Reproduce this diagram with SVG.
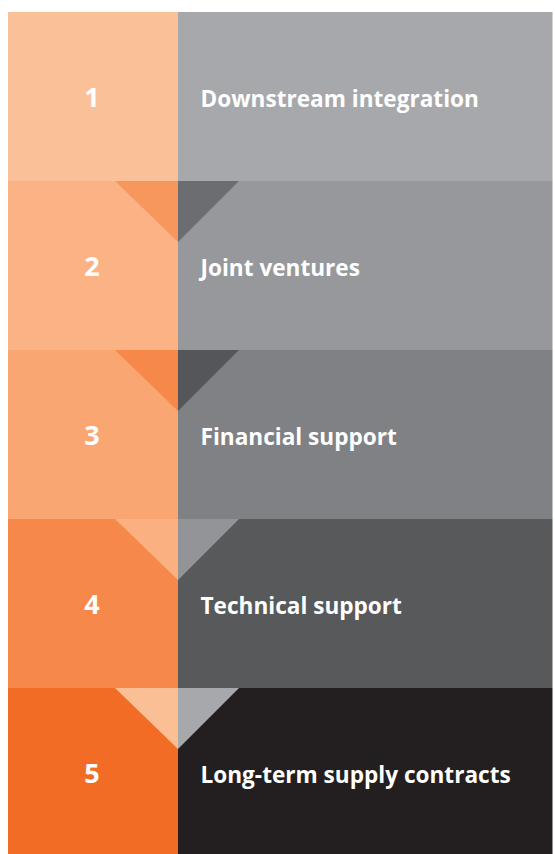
<svg xmlns="http://www.w3.org/2000/svg" width="555" height="854" viewBox="0 0 555 854">
<style>
.num{font-family:"Open Sans","Noto Sans",sans-serif;font-weight:700;font-size:27px;fill:#ffffff;text-anchor:middle}
.lbl{font-family:"Open Sans","Noto Sans",sans-serif;font-weight:700;font-size:22.6px;fill:#ffffff}
</style>
<rect width="555" height="854" fill="#ffffff"/>
<g id="row1">
<rect x="8" y="12" width="170" height="169" fill="#FAC098"/>
<rect x="178" y="12" width="374.5" height="169" fill="#A7A8AB"/>
<text class="num" x="92" y="106.7">1</text>
<text class="lbl" x="200.5" y="106.7">Downstream integration</text>
</g>
<g id="row2">
<rect x="8" y="181" width="170" height="169" fill="#FBB386"/>
<rect x="178" y="181" width="374.5" height="169" fill="#97989B"/>
<polygon points="115,181 178,181 178,242" fill="#F7975D"/>
<polygon points="178,181 239,181 178,242" fill="#6C6D70"/>
<text class="num" x="92" y="275.7">2</text>
<text class="lbl" x="200.5" y="275.7">Joint ventures</text>
</g>
<g id="row3">
<rect x="8" y="350" width="170" height="169" fill="#F9A672"/>
<rect x="178" y="350" width="374.5" height="169" fill="#808184"/>
<polygon points="115,350 178,350 178,411" fill="#F6884A"/>
<polygon points="178,350 239,350 178,411" fill="#555659"/>
<text class="num" x="92" y="444.7">3</text>
<text class="lbl" x="200.5" y="444.7">Financial support</text>
</g>
<g id="row4">
<rect x="8" y="519" width="170" height="169" fill="#F6884A"/>
<rect x="178" y="519" width="374.5" height="169" fill="#58595B"/>
<polygon points="115,519 178,519 178,580" fill="#FAB081"/>
<polygon points="178,519 239,519 178,580" fill="#939497"/>
<text class="num" x="92" y="613.7">4</text>
<text class="lbl" x="200.5" y="613.7">Technical support</text>
</g>
<g id="row5">
<rect x="8" y="688" width="170" height="166" fill="#F36C26"/>
<rect x="178" y="688" width="374.5" height="166" fill="#231F20"/>
<polygon points="115,688 178,688 178,749" fill="#FBBF96"/>
<polygon points="178,688 239,688 178,749" fill="#A7A8AB"/>
<text class="num" x="92" y="782.7">5</text>
<text class="lbl" x="200.5" y="782.7">Long-term supply contracts</text>
</g>
<g id="connectors"></g>
</svg>
